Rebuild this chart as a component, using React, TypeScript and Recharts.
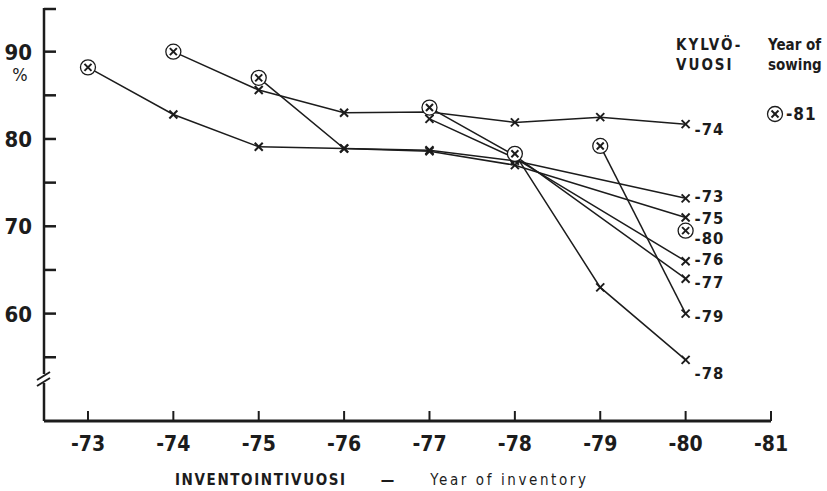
import React from "react";
import { LineChart, Line, XAxis, YAxis } from "recharts";

// inventory years (19xx), one value per year for each sowing year, null = not inventoried
const inventoryYears = [73, 74, 75, 76, 77, 78, 79, 80];

const sown73 = [88.2, 82.8, 79.1, 78.9, 78.7, 77.5, null, 73.2];
const sown74 = [null, 90.0, 85.6, 83.0, 83.1, 81.9, 82.5, 81.7];
const sown75 = [null, null, 87.0, 78.9, 78.6, 77.0, null, 71.0];
const sown76 = [null, null, null, null, 82.3, 77.8, null, 66.0];
const sown77 = [null, null, null, null, 83.6, 78.1, null, 64.0];
const sown78 = [null, null, null, null, null, 78.3, 63.0, 54.7];
const sown79 = [null, null, null, null, null, null, 79.2, 60.0];
const sown80 = [null, null, null, null, null, null, null, 69.5];

const xTicks = [73, 74, 75, 76, 77, 78, 79, 80, 81];
const yTicks = [55, 60, 65, 70, 75, 80, 85, 90, 95];

const FONT = '"Liberation Sans Narrow", "DejaVu Sans Condensed", "Roboto", sans-serif';
const INK = "#1c1c1c";

const series = [
  { name: "-73", values: sown73, circled: true, labelDy: -2 },
  { name: "-74", values: sown74, circled: true, labelDy: 5 },
  { name: "-75", values: sown75, circled: true, labelDy: 0 },
  { name: "-76", values: sown76, circled: false, labelDy: -2 },
  { name: "-77", values: sown77, circled: true, labelDy: 3 },
  { name: "-78", values: sown78, circled: true, labelDy: 13 },
  { name: "-79", values: sown79, circled: true, labelDy: 2 },
  { name: "-80", values: sown80, circled: true, labelDy: 7 },
].map((s) => ({
  ...s,
  points: inventoryYears
    .map((year, i) => ({ year, value: s.values[i] }))
    .filter((p) => p.value !== null),
}));

function Cross({ cx, cy, size = 4 }: { cx: number; cy: number; size?: number }) {
  return (
    <g stroke={INK} strokeWidth={2}>
      <line x1={cx - size} y1={cy - size} x2={cx + size} y2={cy + size} />
      <line x1={cx - size} y1={cy + size} x2={cx + size} y2={cy - size} />
    </g>
  );
}

function makeDot(s: (typeof series)[number]) {
  const last = s.points.length - 1;
  return (props: any) => {
    const { cx, cy, index } = props;
    if (cx == null || cy == null) return <g key={`d-${s.name}-${index}`} />;
    const first = index === 0 && s.circled;
    return (
      <g key={`d-${s.name}-${index}`}>
        {first ? (
          <>
            <circle cx={cx} cy={cy} r={7.5} fill="white" stroke={INK} strokeWidth={1.3} />
            <Cross cx={cx} cy={cy} size={3.5} />
          </>
        ) : (
          <Cross cx={cx} cy={cy} />
        )}
        {index === last && (
          <text
            x={cx + 9}
            y={cy + s.labelDy}
            dy={6}
            fontFamily={FONT}
            fontWeight="bold"
            fontSize={16.5}
            letterSpacing={1}
            fill={INK}
          >
            {s.name}
          </text>
        )}
      </g>
    );
  };
}

const YTick = (props: any) => {
  const { x, y, payload } = props;
  const v = payload.value;
  return (
    <g>
      <line x1={x} x2={x + 12} y1={y} y2={y} stroke={INK} strokeWidth={2.5} />
      {v % 10 === 0 && v < 95 && (
        <text x={x - 12} y={y} dy={8} textAnchor="end" fontFamily={FONT} fontWeight="bold" fontSize={22} fill={INK}>
          {v}
        </text>
      )}
      {v === 90 && (
        <text x={x - 24} y={y} dy={29} textAnchor="middle" fontFamily={FONT} fontSize={18} fill={INK}>
          %
        </text>
      )}
    </g>
  );
};

const XTick = (props: any) => {
  const { x, y, payload } = props;
  return (
    <g>
      <line x1={x} x2={x} y1={y} y2={y - 10} stroke={INK} strokeWidth={2} />
      <text x={x} y={y} dy={30} textAnchor="middle" fontFamily={FONT} fontWeight="bold" fontSize={21} fill={INK}>
        {`-${payload.value}`}
      </text>
    </g>
  );
};

export default function App() {
  return (
    <div style={{ position: "absolute", left: 0, top: 0, width: 827, height: 491, background: "white" }}>
      <LineChart width={827} height={491} margin={{ top: 8, right: 56, bottom: 0, left: 0 }}>
        <XAxis
          dataKey="year"
          type="number"
          domain={[72.485, 81]}
          ticks={xTicks}
          allowDuplicatedCategory={false}
          height={70}
          tickSize={0}
          tickMargin={0}
          tickLine={false}
          tick={<XTick />}
          axisLine={{ stroke: INK, strokeWidth: 3 }}
        />
        <YAxis
          type="number"
          domain={[47.7, 95]}
          ticks={yTicks}
          width={44}
          tickSize={0}
          tickMargin={0}
          tickLine={false}
          tick={<YTick />}
          axisLine={{ stroke: INK, strokeWidth: 2.5 }}
          allowDataOverflow
        />
        {series.map((s) => (
          <Line
            key={s.name}
            data={s.points}
            dataKey="value"
            stroke={INK}
            strokeWidth={1.5}
            dot={makeDot(s)}
            activeDot={false}
            isAnimationActive={false}
          />
        ))}
      </LineChart>

      {/* axis break marks */}
      <svg width={827} height={491} style={{ position: "absolute", left: 0, top: 0, pointerEvents: "none" }}>
        <rect x={38} y={374} width={12} height={9} fill="white" />
        <line x1={37} y1={380} x2={50} y2={372} stroke={INK} strokeWidth={2} />
        <line x1={37} y1={386} x2={50} y2={378} stroke={INK} strokeWidth={2} />
      </svg>

      {/* legend header */}
      <div style={{ position: "absolute", left: 676, top: 35, fontFamily: FONT, fontWeight: "bold", fontSize: 15, lineHeight: "20px", letterSpacing: 2, color: INK, whiteSpace: "nowrap" }}>
        KYLVÖ-
        <br />
        VUOSI
      </div>
      <div style={{ position: "absolute", left: 768, top: 35, fontFamily: FONT, fontWeight: "bold", fontSize: 15, lineHeight: "20px", letterSpacing: 0, color: INK, whiteSpace: "nowrap" }}>
        Year of
        <br />
        sowing
      </div>
      <svg width={62} height={30} style={{ position: "absolute", left: 764, top: 99 }}>
        <circle cx={11} cy={15} r={7.5} fill="white" stroke={INK} strokeWidth={1.3} />
        <Cross cx={11} cy={15} size={3.5} />
        <text x={22} y={21} fontFamily={FONT} fontWeight="bold" fontSize={17} letterSpacing={1} fill={INK}>
          -81
        </text>
      </svg>

      {/* x axis title */}
      <div style={{ position: "absolute", left: 175, top: 471, fontFamily: FONT, fontSize: 15, color: INK, whiteSpace: "nowrap" }}>
        <span style={{ fontWeight: "bold", letterSpacing: 1.6 }}>INVENTOINTIVUOSI</span>
        <span style={{ fontWeight: "bold", margin: "0 36px 0 34px" }}>—</span>
        <span style={{ letterSpacing: 2.6 }}>Year of inventory</span>
      </div>
    </div>
  );
}
